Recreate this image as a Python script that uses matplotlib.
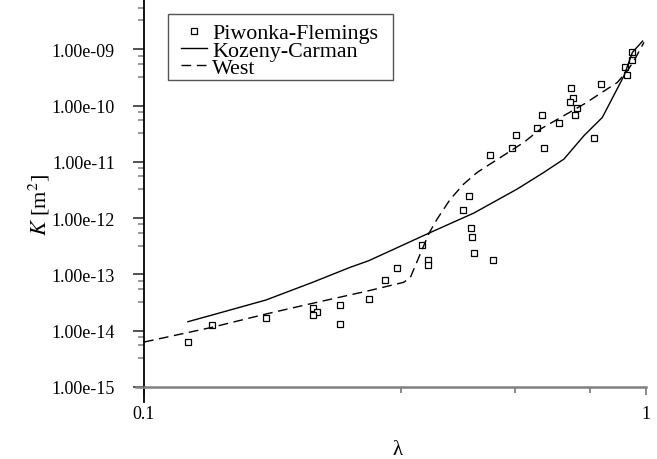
import matplotlib
matplotlib.use("Agg")
import matplotlib.pyplot as plt
from matplotlib.patches import Rectangle
from matplotlib.ticker import FixedLocator, FuncFormatter, NullFormatter

plt.rcParams['font.family'] = ['Liberation Serif', 'DejaVu Serif']
plt.rcParams['mathtext.fontset'] = 'stix'

# --- data ---
pf_lam = [0.1223, 0.1367, 0.175, 0.2168, 0.2208, 0.2168, 0.2462, 0.2462, 0.2804,
          0.3023, 0.3195, 0.3588, 0.3677, 0.3677, 0.4326, 0.4447, 0.4488, 0.4509,
          0.4557, 0.4957, 0.4905, 0.5409, 0.5510, 0.6078, 0.6220, 0.6277, 0.6706,
          0.7096, 0.7161, 0.7053, 0.7295, 0.7228, 0.7901, 0.8159, 0.9081, 0.9177,
          0.9378, 0.9408]
pf_k = [6.22e-15, 1.26e-14, 1.68e-14, 2.53e-14, 2.18e-14, 1.90e-14, 2.90e-14, 1.32e-14,
        3.66e-14, 7.85e-14, 1.28e-13, 3.33e-13, 1.78e-13, 1.47e-13, 1.38e-12, 2.44e-12,
        6.74e-13, 4.61e-13, 2.40e-13, 1.78e-13, 1.34e-11, 1.78e-11, 2.96e-11, 3.94e-11,
        6.78e-11, 1.78e-11, 4.89e-11, 2.07e-10, 1.38e-10, 1.15e-10, 8.91e-11, 6.78e-11,
        2.61e-11, 2.46e-10, 4.89e-10, 3.56e-10, 8.81e-10, 6.50e-10]

kc_lam = [0.1223, 0.1367, 0.175, 0.2168, 0.2577, 0.2804, 0.370, 0.4543, 0.5545,
          0.6266, 0.6871, 0.7530, 0.8196, 0.9051, 0.9408, 0.986]
kc_k = [1.445e-14, 1.90e-14, 3.51e-14, 7.24e-14, 1.34e-13, 1.75e-13, 5.43e-13, 1.23e-12,
        3.29e-12, 6.50e-12, 1.12e-11, 2.91e-11, 6.16e-11, 3.38e-10, 8.81e-10, 1.40e-9]

west_lam = [0.1, 0.1367, 0.175, 0.2168, 0.2804, 0.3293, 0.3396, 0.370, 0.3839, 0.408,
            0.4338, 0.4615, 0.5136, 0.5716, 0.6171, 0.753, 0.8781, 0.9194, 0.9476, 0.992]
west_k = [6.29e-15, 1.15e-14, 1.98e-14, 3.07e-14, 5.13e-14, 7.24e-14, 8.87e-14, 5.43e-13,
          9.64e-13, 2.18e-12, 4.04e-12, 6.50e-12, 1.20e-11, 2.22e-11, 3.83e-11, 1.06e-10,
          2.58e-10, 4.15e-10, 6.25e-10, 1.33e-9]

y_decades = [1e-15, 1e-14, 1e-13, 1e-12, 1e-11, 1e-10, 1e-9, 1e-8]
x_major = [0.1, 1.0]

fig = plt.figure(figsize=(6.57, 4.6), dpi=100)
ax = fig.add_axes([144 / 657, 72 / 460, 501.7 / 657, 394 / 460])

ax.plot(pf_lam, pf_k, linestyle='none', marker='s', markersize=4.2,
        markerfacecolor='white', markeredgecolor='black', markeredgewidth=0.9,
        label='Piwonka-Flemings')
ax.plot(kc_lam, kc_k, color='black', linewidth=1.0, label='Kozeny-Carman')
ax.plot(west_lam, west_k, color='black', linewidth=1.0, dashes=(7, 4), label='West')

ax.set_xscale('log')
ax.set_yscale('log')
ax.set_xlim(0.1, 1.0)
ax.set_ylim(1e-15, 1e-8)

# linear subdivisions inside each decade (as in the original)
ax.xaxis.set_major_locator(FixedLocator(x_major))
ax.xaxis.set_minor_locator(FixedLocator([0.325, 0.55, 0.775]))
ax.xaxis.set_major_formatter(FuncFormatter(lambda v, p: f"{v:g}"))
ax.xaxis.set_minor_formatter(NullFormatter())
ax.yaxis.set_major_locator(FixedLocator(y_decades))
ax.yaxis.set_minor_locator(FixedLocator([d * m for d in y_decades[:-1] for m in (3.25, 5.5, 7.75)]))
ax.yaxis.set_major_formatter(FuncFormatter(lambda v, p: f"{v:.2e}"))
ax.yaxis.set_minor_formatter(NullFormatter())

ax.tick_params(axis='y', which='major', length=8, width=1.2, color='#333333',
               labelsize=13, pad=13)
ax.tick_params(axis='y', which='minor', length=4, width=1.2, color='#888888')
ax.tick_params(axis='x', which='major', length=6, width=1.2, color='#777777',
               labelsize=13, pad=7)
ax.tick_params(axis='x', which='minor', length=4, width=1.2, color='#777777')

for s in ('top', 'right'):
    ax.spines[s].set_visible(False)
ax.spines['left'].set_color('black')
ax.spines['left'].set_linewidth(1.3)
ax.spines['bottom'].set_color('#808080')
ax.spines['bottom'].set_linewidth(1.8)
# little extensions of the axis lines past the origin
ax.plot([0, 0], [0, -15 / 394], transform=ax.transAxes, color='black',
        linewidth=1.3, clip_on=False)
ax.plot([-8 / 501.7, 0], [0, 0], transform=ax.transAxes, color='#808080',
        linewidth=1.8, clip_on=False)

ax.set_xlabel('λ', fontsize=15)
ax.xaxis.set_label_coords((398 - 144) / 501.7, (388 - 441) / 394)
ax.set_ylabel('$K$ [m$^2$]', fontsize=16)
ax.yaxis.set_label_coords((52 - 144) / 501.7, (388 - 205) / 394)

leg = ax.legend(loc='upper left', bbox_to_anchor=(181 / 657, 1 - 24 / 460),
                bbox_transform=fig.transFigure, fontsize=15.8, frameon=False,
                borderaxespad=0, borderpad=0, labelspacing=-0.14,
                handlelength=1.18, handletextpad=0.25)
# plain square frame around the legend
fig.add_artist(Rectangle((167.7 / 657, 1 - 81 / 460), 225 / 657, 66 / 460,
                         transform=fig.transFigure, fill=False,
                         edgecolor='#555555', linewidth=1.0))

fig.savefig('out.png', dpi=100)
